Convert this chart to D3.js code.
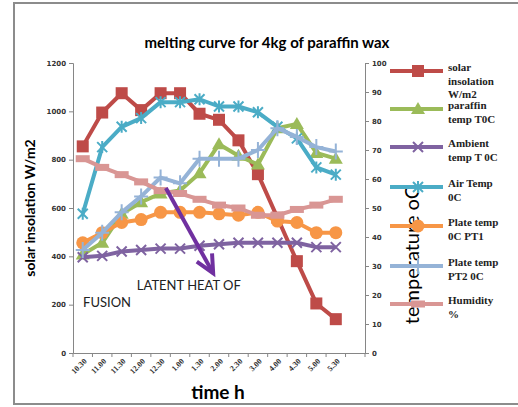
<!DOCTYPE html>
<html>
<head>
<meta charset="utf-8">
<script src="https://cdn.jsdelivr.net/npm/d3@7"></script>
<style>
body{margin:0;background:#fff;}
svg{display:block;}
</style>
</head>
<body>
<svg id="chart" width="518" height="407"></svg>
<script>
// categories (last one is empty on the axis)
var times = ["10.30","11.00","11.30","12.00","12.30","1.00","1.30","2.00","2.30","3.00","4.00","4.30","5.00","5.30",""];

// left axis series
var solar = [855,995,1075,1005,1075,1075,990,965,880,740,560,380,205,140];
// right axis series
var paraffin = [34,38,48,52,55,56,62,72,68,65,77.5,79,69,67];
var ambient = [33,33.5,35,35.5,36,36,37,37.5,38,38,38,38,36.5,36.5];
var airTemp = [48,71,78,81,86.5,86.5,87.5,85,85,83,78,74,64,61.5];
var plate1 = [38,41.5,45,46,48.5,48.5,48.5,48,47.5,48.5,45.5,45,41.5,41.5];
var plate2 = [35.5,41.5,48.5,54,60.5,58.5,67,67,67,70,77.5,74.5,71,69.5];
var humidity = [67,64,61.5,59,56,55,53,51,50,47.5,47.5,49.5,51,53];

var leftTicks = [0,200,400,600,800,1000,1200];
var rightTicks = [0,10,20,30,40,50,60,70,80,90,100];

var series = [
  {name:["solar","insolation","W/m2"], values:solar, axis:"left", color:"#be4b48", marker:"square"},
  {name:["paraffin","temp T0C"], values:paraffin, axis:"right", color:"#9bbb59", marker:"triangle"},
  {name:["Ambient","temp T 0C"], values:ambient, axis:"right", color:"#7f63a1", marker:"x"},
  {name:["Air Temp","0C"], values:airTemp, axis:"right", color:"#4bacc6", marker:"star"},
  {name:["Plate temp","0C PT1"], values:plate1, axis:"right", color:"#f79646", marker:"circle"},
  {name:["Plate temp","PT2 0C"], values:plate2, axis:"right", color:"#95b3d7", marker:"plus"},
  {name:["Humidity","%"], values:humidity, axis:"right", color:"#d99694", marker:"dash"}
];

// annotation in data units (category index, right axis value)
var arrowFrom = {i:4.77, v:56.9};
var arrowTo = {i:7.2, v:27.5};
var notes = [{text:"LATENT HEAT OF", i:3.28, v:21.8},{text:"FUSION", i:0.52, v:16}];

var svg = d3.select("#chart");
var pL = 73, pR = 365, pT = 63, pB = 353;

var x = d3.scaleBand().domain(d3.range(times.length)).range([pL,pR]).padding(0);
var yL = d3.scaleLinear().domain([0,1200]).range([pB,pT]);
var yR = d3.scaleLinear().domain([0,100]).range([pB,pT]);
var xi = function(i){ return pL + i*x.bandwidth(); };
var cx = function(i){ return x(i) + x.bandwidth()/2; };

// outer border
svg.append("rect").attr("x",14).attr("y",3).attr("width",520).attr("height",401)
  .attr("fill","none").attr("stroke","#8c8c8c").attr("stroke-width",2);

// title
svg.append("text").attr("x",267).attr("y",48).attr("text-anchor","middle")
  .style("font-family","Lato, 'Open Sans', sans-serif").style("font-weight","bold").style("font-size","15px")
  .text("melting curve for 4kg of paraffin wax");

// axes
var axisColor = "#868686";
var gL = svg.append("g").attr("transform","translate("+pL+",0)")
  .call(d3.axisLeft(yL).tickValues(leftTicks).tickFormat(d3.format("d")).tickSize(4).tickPadding(3));
var gR = svg.append("g").attr("transform","translate("+pR+",0)")
  .call(d3.axisRight(yR).tickValues(rightTicks).tickSize(4).tickPadding(3));
var gX = svg.append("g").attr("transform","translate(0,"+pB+")")
  .call(d3.axisBottom(x).tickFormat(function(d){ return times[d]; }).tickSize(0).tickPadding(6));
// tick marks at category boundaries
gX.selectAll(".bound").data(d3.range(times.length+1)).enter().append("line")
  .attr("x1",function(d){ return xi(d); }).attr("x2",function(d){ return xi(d); })
  .attr("y1",0).attr("y2",4).attr("stroke",axisColor);

[gL,gR,gX].forEach(function(g){
  g.selectAll("path,line").attr("stroke",axisColor);
  g.selectAll("text").style("font-family","'DejaVu Sans', sans-serif").style("font-size","7px")
    .style("font-weight","bold").attr("fill","#333");
});
gX.selectAll(".tick text").attr("text-anchor","end")
  .style("font-family","'Liberation Serif', serif").style("font-size","8px")
  .attr("transform","translate(-2,0) rotate(-45)").attr("dy","0.6em").attr("dx","-0.2em");

// axis titles
svg.append("text").attr("transform","translate(35,208) rotate(-90)").attr("text-anchor","middle")
  .style("font-family","Lato, sans-serif").style("font-weight","bold").style("font-size","14px")
  .text("solar insolation W/m2");
svg.append("text").attr("transform","translate(419,255) rotate(-90)").attr("text-anchor","middle")
  .style("font-family","Lato, sans-serif").style("font-size","20px")
  .text("temperature oC");
svg.append("text").attr("x",218).attr("y",399).attr("text-anchor","middle")
  .style("font-family","Lato, sans-serif").style("font-weight","bold").style("font-size","19px")
  .text("time h");

function drawMarker(g, type, color){
  if(type=="square"){
    g.append("rect").attr("x",-6).attr("y",-6).attr("width",12).attr("height",12).attr("fill",color);
  }else if(type=="triangle"){
    g.append("path").attr("d","M0,-7L7,5L-7,5Z").attr("fill",color);
  }else if(type=="circle"){
    g.append("circle").attr("r",6.5).attr("fill",color);
  }else if(type=="x"){
    g.append("path").attr("d","M-5,-5L5,5M-5,5L5,-5").attr("stroke",color).attr("stroke-width",2);
  }else if(type=="star"){
    g.append("path").attr("d","M-5,-5L5,5M-5,5L5,-5M0,-6L0,6").attr("stroke",color).attr("stroke-width",2);
  }else if(type=="plus"){
    g.append("path").attr("d","M-7,0L7,0M0,-8L0,8").attr("stroke",color).attr("stroke-width",2);
  }else if(type=="dash"){
    g.append("rect").attr("x",-7).attr("y",-3.5).attr("width",14).attr("height",7).attr("fill",color);
  }
}

// series
series.forEach(function(s){
  var y = s.axis=="left" ? yL : yR;
  var line = d3.line().x(function(d,i){ return cx(i); }).y(function(d){ return y(d); });
  var g = svg.append("g");
  g.append("path").datum(s.values).attr("d",line).attr("fill","none")
    .attr("stroke",s.color).attr("stroke-width",4).attr("stroke-linejoin","round");
  g.selectAll(".m").data(s.values).enter().append("g")
    .attr("transform",function(d,i){ return "translate("+cx(i)+","+y(d)+")"; })
    .each(function(){ drawMarker(d3.select(this), s.marker, s.color); });
});

// arrow annotation
var ax1 = xi(arrowFrom.i), ay1 = yR(arrowFrom.v), ax2 = xi(arrowTo.i), ay2 = yR(arrowTo.v);
var ang = Math.atan2(ay2-ay1, ax2-ax1);
svg.append("line").attr("x1",ax1).attr("y1",ay1).attr("x2",ax2).attr("y2",ay2)
  .attr("stroke","#7030a0").attr("stroke-width",4);
var hl = 20, ha = 0.45;
svg.append("path")
  .attr("d","M"+(ax2-hl*Math.cos(ang-ha))+","+(ay2-hl*Math.sin(ang-ha))+"L"+ax2+","+ay2+
    "L"+(ax2-hl*Math.cos(ang+ha))+","+(ay2-hl*Math.sin(ang+ha)))
  .attr("fill","none").attr("stroke","#7030a0").attr("stroke-width",4).attr("stroke-linejoin","miter");

svg.selectAll(".note").data(notes).enter().append("text")
  .attr("x",function(d){ return xi(d.i); }).attr("y",function(d){ return yR(d.v); })
  .style("font-family","Lato, sans-serif").style("font-size","13px").attr("fill","#222")
  .text(function(d){ return d.text; });

// legend
var legY = [71,109,147,187,226,266,304];
var leg = svg.selectAll(".leg").data(series).enter().append("g")
  .attr("transform",function(d,i){ return "translate(390,"+legY[i]+")"; });
leg.append("line").attr("x1",0).attr("x2",53).attr("stroke",function(d){ return d.color; }).attr("stroke-width",4);
leg.each(function(d){
  var m = d3.select(this).append("g").attr("transform","translate(28,0)");
  drawMarker(m, d.marker, d.color);
});
leg.append("text").attr("x",58).attr("y",0).attr("dy","0.35em")
  .style("font-family","'Liberation Serif', serif").style("font-weight","bold").style("font-size","11px")
  .attr("fill","#222")
  .selectAll("tspan").data(function(d){ return d.name; }).enter().append("tspan")
  .attr("x",58).attr("dy",function(d,i){ return i==0 ? 0 : 13.5; })
  .text(function(d){ return d; });
</script>
</body>
</html>
